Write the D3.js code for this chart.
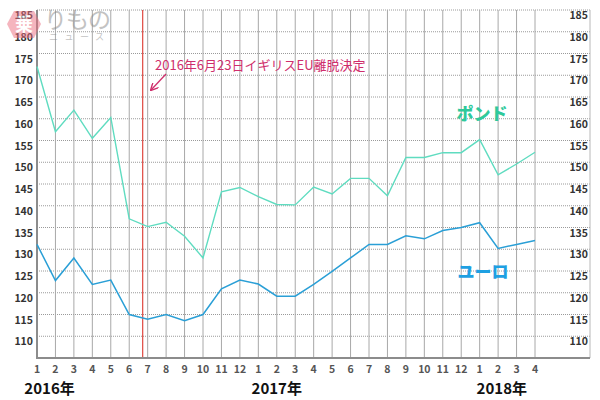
<!DOCTYPE html>
<html><head><meta charset="utf-8">
<script src="https://cdn.jsdelivr.net/npm/d3@7"></script>
<style>
html,body{margin:0;padding:0;background:#fff;}
svg{display:block;}
text{font-family:"Noto Sans CJK JP","Noto Sans",sans-serif;}
</style></head>
<body><svg id="chart" width="600" height="400"></svg>
<script>
const monthLabels = ["1","2","3","4","5","6","7","8","9","10","11","12","1","2","3","4","5","6","7","8","9","10","11","12","1","2","3","4"];
const poundValues = [172,157,162,155.5,160.3,137,135.2,136.2,133,128,143.2,144.2,142.1,140.3,140.2,144.3,142.7,146.3,146.3,142.3,151.1,151.1,152.2,152.2,155.2,147.1,149.6,152.3];
const euroValues = [131.1,122.8,128,121.9,122.9,115,113.9,115,113.6,115,120.9,122.9,122,119.2,119.2,121.9,124.9,128,131.1,131.1,133.1,132.4,134.3,135,136.1,130.2,131.1,132];
const yTicks = [110,115,120,125,130,135,140,145,150,155,160,165,170,175,180,185];
const yearLabels = ["2016年","2017年","2018年"];
const seriesNames = ["ポンド","ユーロ"];
const annotationText = "2016年6月23日イギリスEU離脱決定";
const brexitIndex = 5.73; // 2016-06-23 in month-index units

(function () {
const svg = d3.select("#chart");
const pLeft = 37, pRight = 590, pTop = 10, pBottom = 358, lastX = 535;
const x = d3.scaleLinear().domain([0, monthLabels.length - 1]).range([pLeft, lastX]);
const y = d3.scaleLinear().domain([105, 185]).range([pBottom, pTop]);

// horizontal dotted grid
svg.append("g").selectAll("line").data(yTicks).join("line")
  .attr("x1", pLeft).attr("x2", pRight)
  .attr("y1", d => y(d)).attr("y2", d => y(d))
  .attr("stroke", "#9a9a9a").attr("stroke-width", 1).attr("stroke-dasharray", "1,1");

// vertical grid
svg.append("g").selectAll("line").data(monthLabels.map((d, i) => i)).join("line")
  .attr("x1", d => x(d)).attr("x2", d => x(d))
  .attr("y1", pTop).attr("y2", pBottom)
  .attr("stroke", "#a8a8a8").attr("stroke-width", 1);

// right border
svg.append("line").attr("x1", pRight).attr("x2", pRight).attr("y1", pTop).attr("y2", pBottom)
  .attr("stroke", "#b8b8b8").attr("stroke-width", 1);

// brexit line
svg.append("line").attr("x1", x(brexitIndex)).attr("x2", x(brexitIndex))
  .attr("y1", pTop).attr("y2", pBottom).attr("stroke", "#e0473f").attr("stroke-width", 1.2);

// axes lines
svg.append("line").attr("x1", pLeft).attr("x2", pLeft).attr("y1", pTop).attr("y2", pBottom + 1)
  .attr("stroke", "#8c8c8c").attr("stroke-width", 2);
svg.append("line").attr("x1", pLeft - 1).attr("x2", pRight).attr("y1", pBottom).attr("y2", pBottom)
  .attr("stroke", "#8c8c8c").attr("stroke-width", 2);

// y labels (left and right)
const lbl = svg.append("g").attr("font-size", 10.5).attr("font-weight", 700).attr("fill", "#333");
lbl.selectAll("text.l").data(yTicks).join("text").attr("class", "l")
  .attr("x", 33).attr("y", d => y(d) + 9).attr("text-anchor", "end").text(d => d);
lbl.selectAll("text.r").data(yTicks).join("text").attr("class", "r")
  .attr("x", 588).attr("y", d => y(d) + 9).attr("text-anchor", "end").text(d => d);

// month labels
svg.append("g").selectAll("text").data(monthLabels).join("text")
  .attr("x", (d, i) => x(i)).attr("y", 373).attr("text-anchor", "middle")
  .attr("font-size", 10.5).attr("font-weight", 700).attr("fill", "#555").text(d => d);

// year labels
const yearPos = [0.68, 13, 25.2];
svg.append("g").selectAll("text").data(yearLabels).join("text")
  .attr("x", (d, i) => x(yearPos[i])).attr("y", 394).attr("text-anchor", "middle")
  .attr("font-size", 15).attr("font-weight", 700).attr("fill", "#111").text(d => d);

// lines
const line = d3.line().x((d, i) => x(i)).y(d => y(d));
svg.append("path").datum(poundValues).attr("d", line)
  .attr("fill", "none").attr("stroke", "#5fdcc0").attr("stroke-width", 1.4);
svg.append("path").datum(euroValues).attr("d", line)
  .attr("fill", "none").attr("stroke", "#2a9fd6").attr("stroke-width", 1.5);

// series labels
svg.append("text").attr("x", 482).attr("y", 120).attr("text-anchor", "middle")
  .attr("font-size", 17).attr("font-weight", 900).attr("fill", "#2fc99b").text(seriesNames[0]);
svg.append("text").attr("x", 483).attr("y", 278).attr("text-anchor", "middle")
  .attr("font-size", 17).attr("font-weight", 900).attr("fill", "#1ea0e2").text(seriesNames[1]);

// annotation
svg.append("text").attr("x", 155).attr("y", 70)
  .attr("font-size", 13).attr("fill", "#cf2f6c").text(annotationText);
svg.append("defs").append("marker").attr("id", "ah").attr("viewBox", "0 0 10 10")
  .attr("refX", 9).attr("refY", 5).attr("markerWidth", 6).attr("markerHeight", 6)
  .attr("orient", "auto").append("path").attr("d", "M0,0 L10,5 L0,10").attr("fill", "none")
  .attr("stroke", "#cf2f6c").attr("stroke-width", 1.8);
svg.append("line").attr("x1", 166).attr("y1", 74).attr("x2", 151).attr("y2", 90)
  .attr("stroke", "#cf2f6c").attr("stroke-width", 1.3).attr("marker-end", "url(#ah)");

// logo watermark (semi-transparent, drawn over the chart corner as in the source)
const logo = svg.append("g").attr("opacity", 0.5);
logo.append("path")
  .attr("d", "M14,11 L34,11 L41,24 L34,38 L14,38 L7,24 Z")
  .attr("fill", "#ec6d7f");
logo.append("text").attr("x", 24).attr("y", 31).attr("text-anchor", "middle")
  .attr("font-size", 18).attr("font-weight", 700).attr("fill", "#fff").text("乗");
logo.append("text").attr("x", 44).attr("y", 28)
  .attr("font-size", 23).attr("fill", "#888").attr("letter-spacing", -1).text("りもの");
logo.append("text").attr("x", 49).attr("y", 40)
  .attr("font-size", 9).attr("fill", "#888").attr("letter-spacing", 6.5).text("ニュース");
})();
</script></body></html>
